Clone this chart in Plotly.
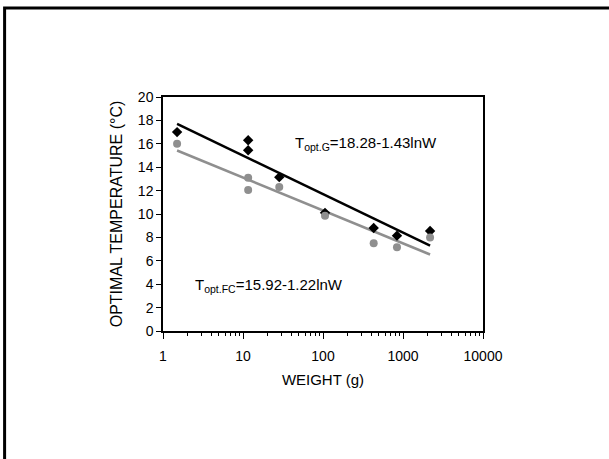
import plotly.graph_objects as go

# Data
weight_g = [1.5, 11.6, 11.6, 28.4, 106, 430, 841, 2180]
temp_G = [17.0, 16.3, 15.45, 13.15, 10.1, 8.8, 8.15, 8.55]
temp_FC = [16.0, 13.1, 12.05, 12.3, 9.85, 7.5, 7.15, 8.0]

fit_weight = [1.5, 11.6, 28.4, 106, 430, 841, 2180]
fit_G = [17.70, 14.78, 13.50, 11.61, 9.61, 8.65, 7.29]
fit_FC = [15.43, 12.93, 11.84, 10.23, 8.52, 7.70, 6.54]

x_tickvals = [1, 10, 100, 1000, 10000]
x_ticktext = ["1", "10", "100", "1000", "10000"]
y_tickvals = [0, 2, 4, 6, 8, 10, 12, 14, 16, 18, 20]

label_G = "T<sub>opt.G</sub>=18.28-1.43lnW"
label_FC = "T<sub>opt.FC</sub>=15.92-1.22lnW"

BLACK = "#000000"
GRAY = "#8f8f8f"
FONT = "Liberation Sans, Arial, sans-serif"

fig = go.Figure()
fig.add_trace(go.Scatter(x=fit_weight, y=fit_FC, mode="lines",
                         line=dict(color=GRAY, width=2.5), showlegend=False))
fig.add_trace(go.Scatter(x=fit_weight, y=fit_G, mode="lines",
                         line=dict(color=BLACK, width=2.5), showlegend=False))
fig.add_trace(go.Scatter(x=weight_g, y=temp_G, mode="markers",
                         marker=dict(symbol="diamond", color=BLACK, size=8),
                         showlegend=False))
fig.add_trace(go.Scatter(x=weight_g, y=temp_FC, mode="markers",
                         marker=dict(symbol="circle", color=GRAY, size=8),
                         showlegend=False))

minor_vals = [m * 10 ** d for d in range(4) for m in range(2, 10)]

fig.update_xaxes(type="log", range=[0, 4], tickvals=x_tickvals, ticktext=x_ticktext,
                 ticks="outside", ticklen=6, tickwidth=1, tickcolor=BLACK,
                 ticklabelstandoff=5,
                 minor=dict(tickvals=minor_vals, ticks="outside", ticklen=3,
                            tickcolor=BLACK, tickwidth=1),
                 showline=True, linecolor=BLACK, linewidth=1.5, mirror=True,
                 showgrid=False, zeroline=False,
                 tickfont=dict(family=FONT, size=14, color=BLACK),
                 title=dict(text="WEIGHT (g)", font=dict(family=FONT, size=15, color=BLACK),
                            standoff=12))
fig.update_yaxes(range=[0, 20], tickvals=y_tickvals,
                 ticks="outside", ticklen=5, tickwidth=1, tickcolor=BLACK,
                 showline=True, linecolor=BLACK, linewidth=1.5, mirror=True,
                 showgrid=False, zeroline=False,
                 tickfont=dict(family=FONT, size=14, color=BLACK),
                 title=dict(text="OPTIMAL TEMPERATURE (°C)",
                            font=dict(family=FONT, size=16, color=BLACK), standoff=11))

fig.add_annotation(x=0.405, y=0.803, xref="paper", yref="paper", xanchor="left",
                   yanchor="middle", text=label_G, showarrow=False,
                   font=dict(family=FONT, size=15, color=BLACK))
fig.add_annotation(x=0.095, y=0.196, xref="paper", yref="paper", xanchor="left",
                   yanchor="middle", text=label_FC, showarrow=False,
                   font=dict(family=FONT, size=15, color=BLACK))

# outer frame (left and top edges visible)
fig.add_shape(type="rect", xref="paper", yref="paper",
              x0=-0.495, x1=1.45, y0=-0.6, y1=1.38,
              line=dict(color=BLACK, width=3), fillcolor="rgba(0,0,0,0)")

fig.update_layout(width=609, height=459,
                  margin=dict(l=163, r=126, t=97, b=128, autoexpand=False),
                  paper_bgcolor="white", plot_bgcolor="white",
                  font=dict(family=FONT, color=BLACK))

fig.write_html("out.html", config={"displayModeBar": False},
               post_script="document.body.style.margin='0px';document.body.style.overflow='hidden';")
